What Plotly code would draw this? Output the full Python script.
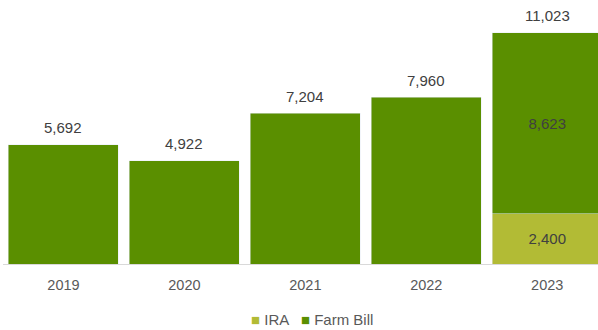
import plotly.graph_objects as go

years = ["2019", "2020", "2021", "2022", "2023"]
ira = [0, 0, 0, 0, 2400]
farm_bill = [5692, 4922, 7204, 7960, 8623]
totals = [5692, 4922, 7204, 7960, 11023]

ira_color = "#b2bb35"
fb_color = "#5a8f00"
label_font = dict(color="#404040", size=15, family="Liberation Sans")

ira_text = [f"{v:,}" if v else "" for v in ira]
fb_text = ["", "", "", "", f"{farm_bill[4]:,}"]

fig = go.Figure()
fig.add_trace(go.Bar(
    x=years, y=ira, name="IRA", marker_color=ira_color,
    text=ira_text, textposition="inside", insidetextanchor="middle",
    textfont=label_font, hoverinfo="skip", showlegend=False,
))
fig.add_trace(go.Bar(
    x=years, y=farm_bill, name="Farm Bill", marker_color=fb_color,
    text=fb_text, textposition="inside", insidetextanchor="middle",
    textfont=label_font, hoverinfo="skip", showlegend=False,
))

annotations = [
    dict(x=i, y=t, xref="x", yref="y", text=f"{t:,}", showarrow=False,
         yanchor="middle", yshift=17, font=label_font)
    for i, t in enumerate(totals)
]
annotations.append(dict(
    x=0.52, y=-0.212, xref="paper", yref="paper", xanchor="center", yanchor="middle",
    showarrow=False,
    text=(f'<span style="color:{ira_color}">■</span> IRA   '
          f'<span style="color:{fb_color}">■</span> Farm Bill'),
    font=dict(color="#595959", size=15, family="Liberation Sans"),
))

fig.update_layout(
    width=598, height=330,
    barmode="stack", bargap=0.09,
    plot_bgcolor="white", paper_bgcolor="white",
    margin=dict(l=3, r=0, t=0, b=66, autoexpand=False),
    xaxis=dict(type="category", range=[-0.5, 4.42], showline=True, linecolor="#d9d9d9",
               linewidth=1, ticks="outside", ticklen=8, tickcolor="rgba(0,0,0,0)",
               tickfont=dict(color="#595959", size=14.5, family="Liberation Sans"),
               showgrid=False, automargin=False),
    yaxis=dict(range=[0, 12597], visible=False, showgrid=False),
    annotations=annotations,
    showlegend=False,
)

fig.write_html("out.html")
